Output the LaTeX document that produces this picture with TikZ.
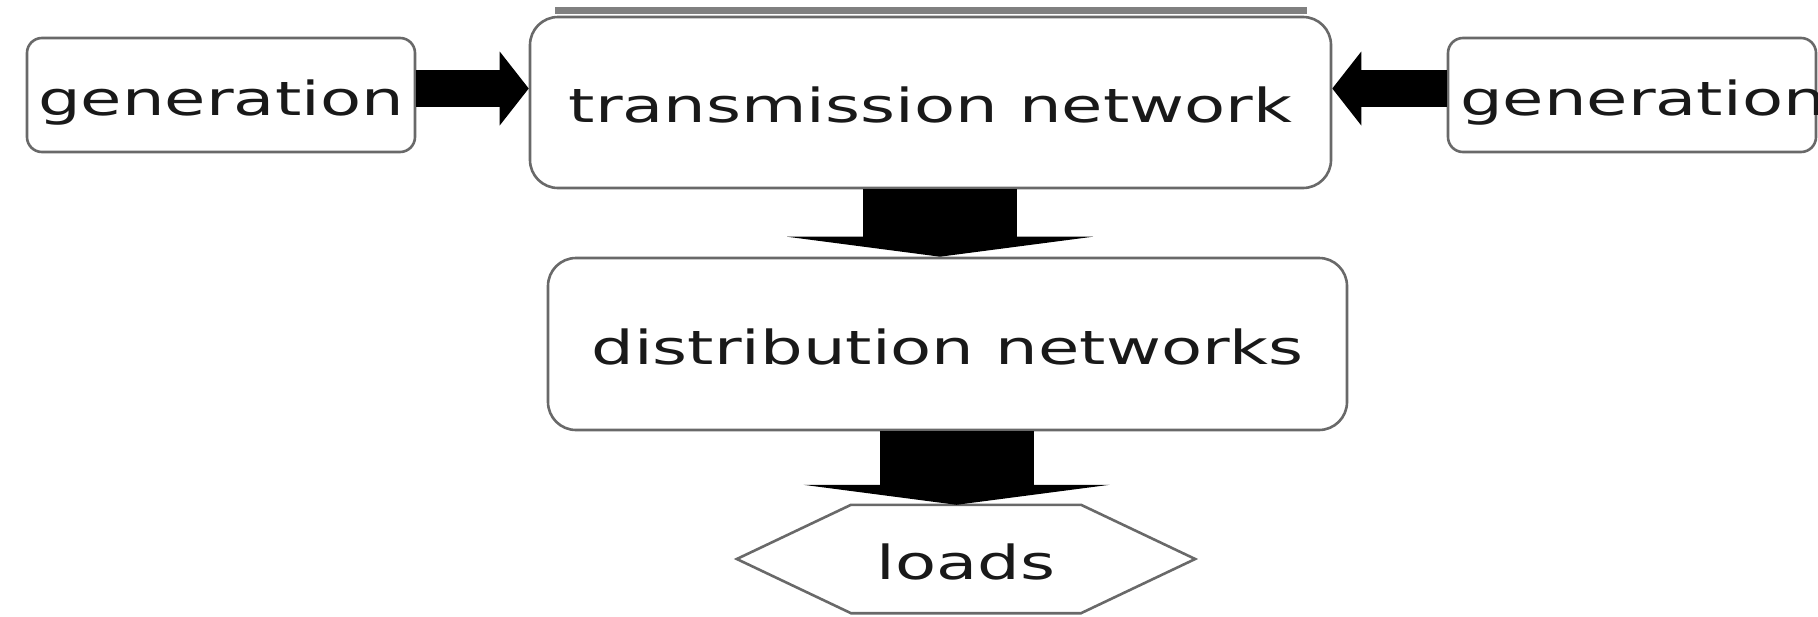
\documentclass[tikz,border=0pt]{standalone}
\usepackage{fontspec}
\setmainfont[FakeStretch=1.43]{DejaVu Sans}
\usetikzlibrary{arrows.meta,calc}
\definecolor{edgegray}{RGB}{105,105,105}
\definecolor{bargray}{RGB}{128,128,128}
\definecolor{ink}{RGB}{25,25,25}
\begin{document}
\begin{tikzpicture}[x=1pt,y=-1pt,
  txt/.style={inner sep=0pt, text=ink, font=\fontsize{47pt}{56pt}\selectfont, text height=40pt, text depth=0pt},
  box/.style={txt, draw=edgegray, line width=2.6pt, fill=white},
  hflow/.style={draw=black, line width=37pt, -{Triangle[length=29pt,width=74pt,line width=0pt]}},
  vflow/.style={draw=black, line width=154pt, -{Triangle[length=20pt,width=306pt,line width=0pt]}}
]
\useasboundingbox (0,0) rectangle (1818,616);
\clip (0,0) rectangle (1818,616);

% boxes
\node[box, rounded corners=15pt, minimum width=388pt, minimum height=114pt] (g1) at (221,95) {generation};
\node[box, rounded corners=28pt, minimum width=801pt, minimum height=171pt] (trans) at (930.5,102.5) {transmission network};
\node[box, rounded corners=15pt, minimum width=368pt, minimum height=114pt] (g2) at (1632,95) {};
\node[txt, anchor=base west] (g2t) at (1460,115) {generation};
\node[box, rounded corners=28pt, minimum width=799pt, minimum height=172pt] (dist) at (947.5,344) {distribution networks};
\node[txt, minimum width=458pt, minimum height=108pt] (loads) at (966,559) {loads};
\draw[draw=edgegray, line width=2.6pt, line join=miter]
  (loads.west) -- ($(loads.north)+(-115,0)$) -- ($(loads.north)+(115,0)$) -- (loads.east)
  -- ($(loads.south)+(115,0)$) -- ($(loads.south)+(-115,0)$) -- cycle;

% gray bar on top of the transmission box
\fill[bargray] ($(trans.north west)+(26,-9)$) rectangle ($(trans.north east)+(-25,-2)$);

% connectors
\draw[hflow] ([yshift=6.5pt]g1.east) -- ([yshift=14pt]trans.west);
\draw[hflow] ([yshift=6.5pt]g2.west) -- ([yshift=14pt]trans.east);
\draw[vflow] ([xshift=9.5pt]trans.south) -- ([xshift=-7.5pt]dist.north);
\draw[vflow] ([xshift=9pt]dist.south) -- ([xshift=-9.5pt]loads.north);
\end{tikzpicture}
\end{document}
